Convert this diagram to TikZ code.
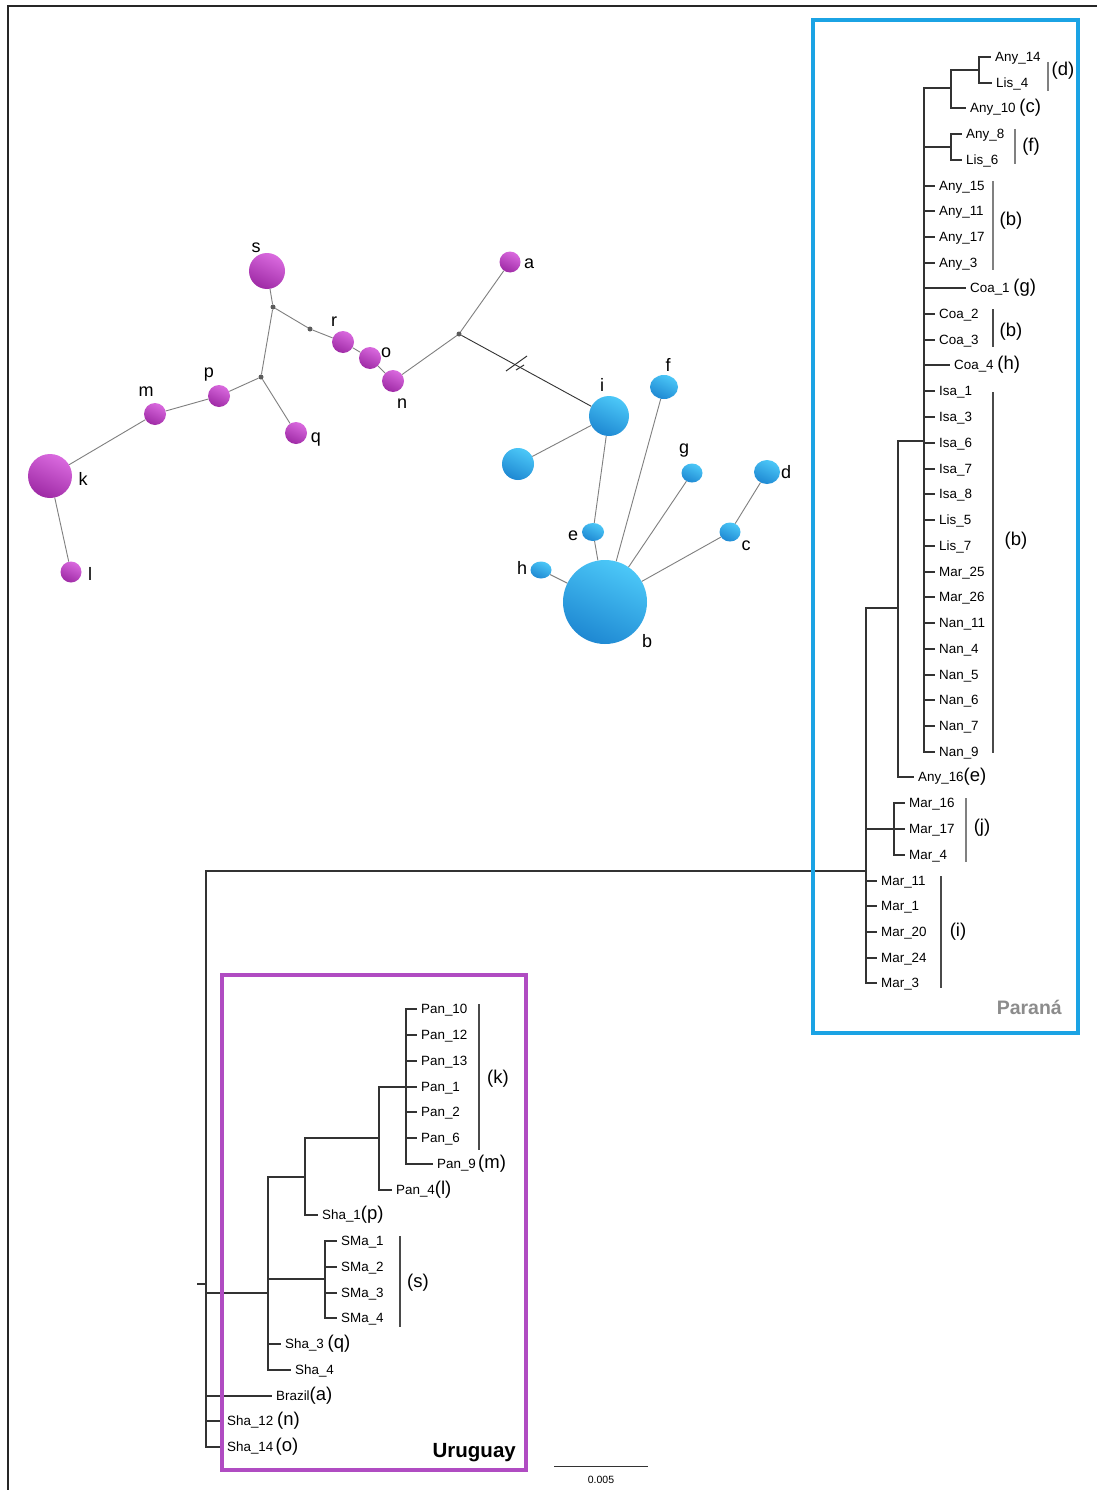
\documentclass[tikz,border=0pt]{standalone}
\usepackage{fontspec}
\setmainfont{Liberation Sans}
\usetikzlibrary{shapes.geometric}
\definecolor{treeC}{HTML}{333333}
\definecolor{barC}{HTML}{4A4A4A}
\definecolor{paraC}{HTML}{1BA3E4}
\definecolor{uruC}{HTML}{B04CC2}
\definecolor{pLight}{HTML}{DA6ADF}
\definecolor{pDark}{HTML}{9E2AA5}
\definecolor{bLight}{HTML}{4CC8F8}
\definecolor{bDark}{HTML}{1E88D2}
\definecolor{edgeC}{HTML}{7F7F7F}
\definecolor{paraText}{HTML}{8C8C8C}
\newcommand\plab[1]{{\fontsize{18.5}{18.5}\selectfont #1}}
\begin{document}
\begin{tikzpicture}[x=1pt,y=-1pt,
  tbr/.style={draw=treeC,line width=1.1pt,line cap=rect},
  tick/.style={draw=treeC,line width=1.1pt,shorten >=4pt},
  leaf/.style={anchor=west,inner sep=0pt,font=\fontsize{13.4}{14}\selectfont,text height=9.6pt,text depth=0pt},
  parl/.style={inner sep=0pt,font=\fontsize{18.5}{18.5}\selectfont},
  cladebar/.style={draw=barC,line width=1.3pt},
  pball/.style={ellipse,inner sep=0pt,draw=none,top color=pLight,bottom color=pDark,shading angle=-25},
  bball/.style={ellipse,inner sep=0pt,draw=none,top color=bLight,bottom color=bDark,shading angle=-25},
  median/.style={circle,inner sep=0pt,minimum size=5pt,fill=treeC!80},
  netlab/.style={inner sep=0pt,font=\fontsize{18}{18}\selectfont},
  netedge/.style={draw=edgeC,line width=0.9pt}
]
\useasboundingbox (0,0) rectangle (1097,1490);
\fill[white] (0,0) rectangle (1097,1490);
% outer frame
\draw[line width=1.6pt,black!85] (8,1490) -- (8,6) -- (1097,6);

% ================= network =================
\node[pball,minimum width=36pt,minimum height=36pt] (s) at (267,271) {};
\node[pball,minimum width=22pt,minimum height=22pt] (r) at (343,342) {};
\node[pball,minimum width=22pt,minimum height=22pt] (o) at (370,358) {};
\node[pball,minimum width=22pt,minimum height=22pt] (n) at (393,381) {};
\node[pball,minimum width=22pt,minimum height=22pt] (p) at (219,396) {};
\node[pball,minimum width=22pt,minimum height=22pt] (m) at (155,414) {};
\node[pball,minimum width=22pt,minimum height=22pt] (q) at (296,433) {};
\node[pball,minimum width=44pt,minimum height=44pt] (k) at (50,476) {};
\node[pball,minimum width=21pt,minimum height=21pt] (l) at (71,572) {};
\node[pball,minimum width=21pt,minimum height=21pt] (a) at (510,262) {};
\node[median] (md1) at (273,307) {};
\node[median] (md2) at (310,329) {};
\node[median] (md3) at (261,377) {};
\node[median] (md4) at (459,334) {};
\node[bball,minimum width=40pt,minimum height=40pt] (i) at (609,416) {};
\node[bball,minimum width=32pt,minimum height=32pt] (u) at (518,464) {};
\node[bball,minimum width=28pt,minimum height=24pt] (f) at (664,387) {};
\node[bball,minimum width=21pt,minimum height=19pt] (g) at (692,473) {};
\node[bball,minimum width=26pt,minimum height=24pt] (d) at (767,472) {};
\node[bball,minimum width=21pt,minimum height=19pt] (c) at (730,532) {};
\node[bball,minimum width=22pt,minimum height=18pt] (e) at (593,532) {};
\node[bball,minimum width=21pt,minimum height=17pt] (h) at (541,570) {};
\node[bball,minimum width=84pt,minimum height=84pt] (b) at (605,602) {};

\draw[netedge] (s) -- (md1);
\draw[netedge] (md1) -- (md3);
\draw[netedge] (md1) -- (md2);
\draw[netedge] (md2) -- (r);
\draw[netedge] (r) -- (o);
\draw[netedge] (o) -- (n);
\draw[netedge] (n) -- (md4);
\draw[netedge] (md4) -- (a);
\draw[draw=treeC,line width=0.9pt] (md4) -- (i);
\draw[netedge] (md3) -- (p);
\draw[netedge] (p) -- (m);
\draw[netedge] (m) -- (k);
\draw[netedge] (k) -- (l);
\draw[netedge] (md3) -- (q);
\draw[netedge] (i) -- (u);
\draw[netedge] (i) -- (e);
\draw[netedge] (e) -- (b);
\draw[netedge] (b) -- (f);
\draw[netedge] (b) -- (g);
\draw[netedge] (b) -- (c);
\draw[netedge] (c) -- (d);
\draw[netedge] (b) -- (h);
% break marks
\draw[draw=treeC,line width=1pt] (506,371) -- (527,356);
\draw[draw=treeC,line width=1pt] (516,370) -- (524,365);

\node[netlab] (ls) at (256,248) {s};
\node[netlab] (lr) at (334,322) {r};
\node[netlab] (lo) at (386,353) {o};
\node[netlab] (ln) at (402,404) {n};
\node[netlab] (lp) at (209,375) {p};
\node[netlab] (lm) at (146,392) {m};
\node[netlab] (lq) at (316,440) {q};
\node[netlab] (lk) at (83,479) {k};
\node[netlab] (ll) at (90,574) {l};
\node[netlab] (la) at (529,264) {a};
\node[netlab] (li) at (602,385) {i};
\node[netlab] (lf) at (668,365) {f};
\node[netlab] (lg) at (684,451) {g};
\node[netlab] (ld) at (786,472) {d};
\node[netlab] (lc) at (746,546) {c};
\node[netlab] (le) at (573,536) {e};
\node[netlab] (lh) at (522,568) {h};
\node[netlab] (lb) at (647,641) {b};

% ================= Parana tree =================
\coordinate (R0) at (206,871);
\coordinate (RP) at (866,871);
\draw[tbr] (R0) -- (RP);
\draw[tbr] (866,608) -- (866,983);
\draw[tbr] (866,608) -- (898,608);
\draw[tbr] (898,441) -- (898,777);
\draw[tbr] (898,441) -- (924,441);
\draw[tbr] (924,88) -- (924,752);
% top clade (d),(c)
\draw[tbr] (924,88) -- (951,88);
\draw[tbr] (951,70) -- (951,108);
\draw[tbr] (951,70) -- (979,70);
\draw[tbr] (979,57) -- (979,83);
\node[leaf] (Pa14) at (995,57) {Any\_14};
\node[leaf] (Pl4) at (996,83) {Lis\_4};
\draw[tick] (979,57) -- (Pa14.west);
\draw[tick] (979,83) -- (Pl4.west);
\node[leaf] (Pa10) at (970,108) {Any\_10 \plab{(c)}};
\draw[tick] (951,108) -- (Pa10.west);
% clade (f)
\draw[tbr] (924,147) -- (951,147);
\draw[tbr] (951,134) -- (951,160);
\node[leaf] (Pa8) at (966,134) {Any\_8};
\node[leaf] (Pl6) at (966,160) {Lis\_6};
\draw[tick] (951,134) -- (Pa8.west);
\draw[tick] (951,160) -- (Pl6.west);
% short leaves
\foreach \nm/\tx/\yy in {a15/Any\_15/186, a11/Any\_11/211, a17/Any\_17/237, a3/Any\_3/263,
  c2/Coa\_2/314, c3/Coa\_3/340, i1/Isa\_1/391, i3/Isa\_3/417, i6/Isa\_6/443, i7/Isa\_7/469,
  i8/Isa\_8/494, l5/Lis\_5/520, l7/Lis\_7/546, m25/Mar\_25/572, m26/Mar\_26/597,
  n11/Nan\_11/623, n4/Nan\_4/649, n5/Nan\_5/675, n6/Nan\_6/700, n7/Nan\_7/726, n9/Nan\_9/752}
{\node[leaf] (P\nm) at (939,\yy) {\tx};
 \draw[tick] (924,\yy) -- (P\nm.west);}
\node[leaf] (Pc1) at (970,288) {Coa\_1 \plab{(g)}};
\draw[tick] (924,288) -- (Pc1.west);
\node[leaf] (Pc4) at (954,365) {Coa\_4 \plab{(h)}};
\draw[tick] (924,365) -- (Pc4.west);
\node[leaf] (Pa16) at (918,777) {Any\_16\plab{(e)}};
\draw[tick] (898,777) -- (Pa16.west);
% clade (j)
\draw[tbr] (866,829) -- (894,829);
\draw[tbr] (894,803) -- (894,855);
\foreach \nm/\tx/\yy in {m16/Mar\_16/803, m17/Mar\_17/829, m4/Mar\_4/855}
{\node[leaf] (P\nm) at (909,\yy) {\tx};
 \draw[tick] (894,\yy) -- (P\nm.west);}
% clade (i)
\foreach \nm/\tx/\yy in {m11/Mar\_11/881, m1/Mar\_1/906, m20/Mar\_20/932, m24/Mar\_24/958, m3/Mar\_3/983}
{\node[leaf] (P\nm) at (881,\yy) {\tx};
 \draw[tick] (866,\yy) -- (P\nm.west);}
% bars and labels
\draw[cladebar,draw=barC!70] (1048,62) -- (1048,91);
\node[parl] (bd) at (1063,71) {(d)};
\draw[cladebar,draw=barC!70] (1015,129) -- (1015,164);
\node[parl] (bf) at (1031,147) {(f)};
\draw[cladebar,draw=barC!70] (993,181) -- (993,270);
\node[parl] (bb1) at (1011,221) {(b)};
\draw[cladebar] (993,309) -- (993,347);
\node[parl] (bb2) at (1011,332) {(b)};
\draw[cladebar] (993,392) -- (993,753);
\node[parl] (bb3) at (1016,541) {(b)};
\draw[cladebar,draw=barC!70] (966,798) -- (966,862);
\node[parl] (bj) at (982,828) {(j)};
\draw[cladebar] (941,876) -- (941,988);
\node[parl] (bi) at (958,932) {(i)};

% ================= Uruguay tree =================
\draw[tbr] (R0) -- (206,1447);
\draw[tbr] (198,1284) -- (206,1284);
\draw[tbr] (206,1293) -- (268,1293);
\draw[tbr] (268,1177) -- (268,1370);
\draw[tbr] (268,1177) -- (305,1177);
\draw[tbr] (305,1138) -- (305,1215);
\draw[tbr] (305,1138) -- (379,1138);
\draw[tbr] (379,1087) -- (379,1190);
\draw[tbr] (379,1087) -- (406,1087);
\draw[tbr] (406,1009) -- (406,1164);
\foreach \nm/\tx/\yy in {p10/Pan\_10/1009, p12/Pan\_12/1035, p13/Pan\_13/1061, p1/Pan\_1/1087, p2/Pan\_2/1112, p6/Pan\_6/1138}
{\node[leaf] (U\nm) at (421,\yy) {\tx};
 \draw[tick] (406,\yy) -- (U\nm.west);}
\node[leaf] (Up9) at (437,1164) {Pan\_9\,\plab{(m)}};
\draw[tick] (406,1164) -- (Up9.west);
\node[leaf] (Up4) at (396,1190) {Pan\_4\plab{(l)}};
\draw[tick] (379,1190) -- (Up4.west);
\node[leaf] (Us1) at (322,1215) {Sha\_1\plab{(p)}};
\draw[tick] (305,1215) -- (Us1.west);
\draw[tbr] (268,1279) -- (325,1279);
\draw[tbr] (325,1241) -- (325,1318);
\foreach \nm/\tx/\yy in {sm1/SMa\_1/1241, sm2/SMa\_2/1267, sm3/SMa\_3/1293, sm4/SMa\_4/1318}
{\node[leaf] (U\nm) at (341,\yy) {\tx};
 \draw[tick] (325,\yy) -- (U\nm.west);}
\node[leaf] (Us3) at (285,1344) {Sha\_3 \plab{(q)}};
\draw[tick] (268,1344) -- (Us3.west);
\node[leaf] (Us4) at (295,1370) {Sha\_4};
\draw[tick] (268,1370) -- (Us4.west);
\node[leaf] (Ubr) at (276,1396) {Brazil\plab{(a)}};
\draw[tick] (206,1396) -- (Ubr.west);
\node[leaf] (Us12) at (227,1421) {Sha\_12 \plab{(n)}};
\draw[tick] (206,1421) -- (Us12.west);
\node[leaf] (Us14) at (227,1447) {Sha\_14\,\plab{(o)}};
\draw[tick] (206,1447) -- (Us14.west);
\draw[cladebar] (479,1004) -- (479,1150);
\node[parl] (bk) at (498,1079) {(k)};
\draw[cladebar] (400,1236) -- (400,1327);
\node[parl] (bs) at (418,1283) {(s)};

% ================= boxes =================
\draw[draw=paraC,line width=4.5pt] (813,20) rectangle (1078,1033);
\node[anchor=base east,inner sep=0pt,text=paraText,font=\bfseries\fontsize{19.5}{19.5}\selectfont] (parana) at (1062,1014) {Paraná};
\draw[draw=uruC,line width=4pt] (222,975) rectangle (526,1470);
\node[anchor=base east,inner sep=0pt,font=\bfseries\fontsize{20.5}{20.5}\selectfont] (uruguay) at (516,1457) {Uruguay};

% scale bar
\coordinate (sb1) at (554,1466);
\coordinate (sb2) at (648,1466);
\draw[line width=1pt,treeC] (sb1) -- (sb2);
\node[inner sep=0pt,font=\fontsize{10.5}{11}\selectfont] (sbl) at (601,1480) {0.005};
\end{tikzpicture}
\end{document}
